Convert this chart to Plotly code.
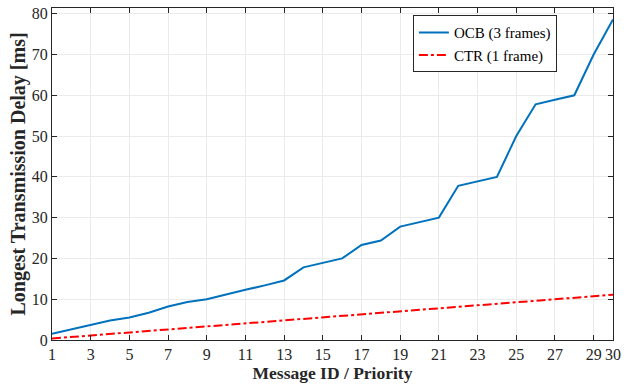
import plotly.graph_objects as go

message_id = list(range(1, 31))
ocb = [1.5, 2.6, 3.7, 4.8, 5.5, 6.7, 8.2, 9.3, 10.0, 11.2, 12.3, 13.4, 14.6, 17.8, 18.9,
       20.0, 23.3, 24.4, 27.8, 28.9, 30.0, 37.8, 38.9, 40.0, 50.0, 57.8, 58.9, 60.0, 70.0, 78.6]
ctr = [0.37, 0.74, 1.11, 1.48, 1.85, 2.22, 2.59, 2.96, 3.33, 3.70, 4.07, 4.44, 4.81, 5.18, 5.55,
       5.92, 6.29, 6.66, 7.03, 7.40, 7.77, 8.14, 8.51, 8.88, 9.25, 9.62, 9.99, 10.36, 10.73, 11.10]
x_ticks = [1, 3, 5, 7, 9, 11, 13, 15, 17, 19, 21, 23, 25, 27, 29, 30]
y_ticks = [0, 10, 20, 30, 40, 50, 60, 70, 80]

font_family = "Liberation Serif"

fig = go.Figure()
fig.add_trace(go.Scatter(x=message_id, y=ocb, mode="lines", name="OCB (3 frames)",
                         line=dict(color="#0072BD", width=2)))
fig.add_trace(go.Scatter(x=message_id, y=ctr, mode="lines", name="CTR (1 frame)",
                         line=dict(color="#FF0000", width=2, dash="dashdot")))

axis_common = dict(showline=True, linecolor="#262626", linewidth=1, mirror="allticks",
                   ticks="inside", ticklen=5, tickcolor="#262626",
                   showgrid=True, gridcolor="#ebebeb", gridwidth=1, zeroline=False,
                   automargin=False,
                   tickfont=dict(family=font_family, size=16, color="#262626"))

fig.update_xaxes(range=[1, 30], tickvals=x_ticks, ticktext=[str(v) for v in x_ticks],
                 title=dict(text="<b>Message ID / Priority</b>", standoff=2,
                            font=dict(family=font_family, size=17.5, color="#262626")),
                 **axis_common)
fig.update_yaxes(range=[0, 81.4], tickvals=y_ticks,
                 title=dict(text="<b>Longest Transmission Delay [ms]</b>", standoff=0,
                            font=dict(family=font_family, size=20, color="#262626")),
                 **axis_common)

fig.update_layout(
    width=642, height=386,
    margin=dict(l=52, r=29, t=8, b=46),
    plot_bgcolor="white", paper_bgcolor="white",
    font=dict(family=font_family, color="#262626"),
    legend=dict(x=0.9, y=0.978, xanchor="right", yanchor="top",
                bgcolor="white", bordercolor="#262626", borderwidth=1,
                font=dict(family=font_family, size=15, color="#000000"),
                tracegroupgap=0, itemwidth=30),
    showlegend=True,
)

fig.write_html("out.html", config={"displayModeBar": False},
               post_script="document.body.style.margin='0';document.body.style.padding='0';")
